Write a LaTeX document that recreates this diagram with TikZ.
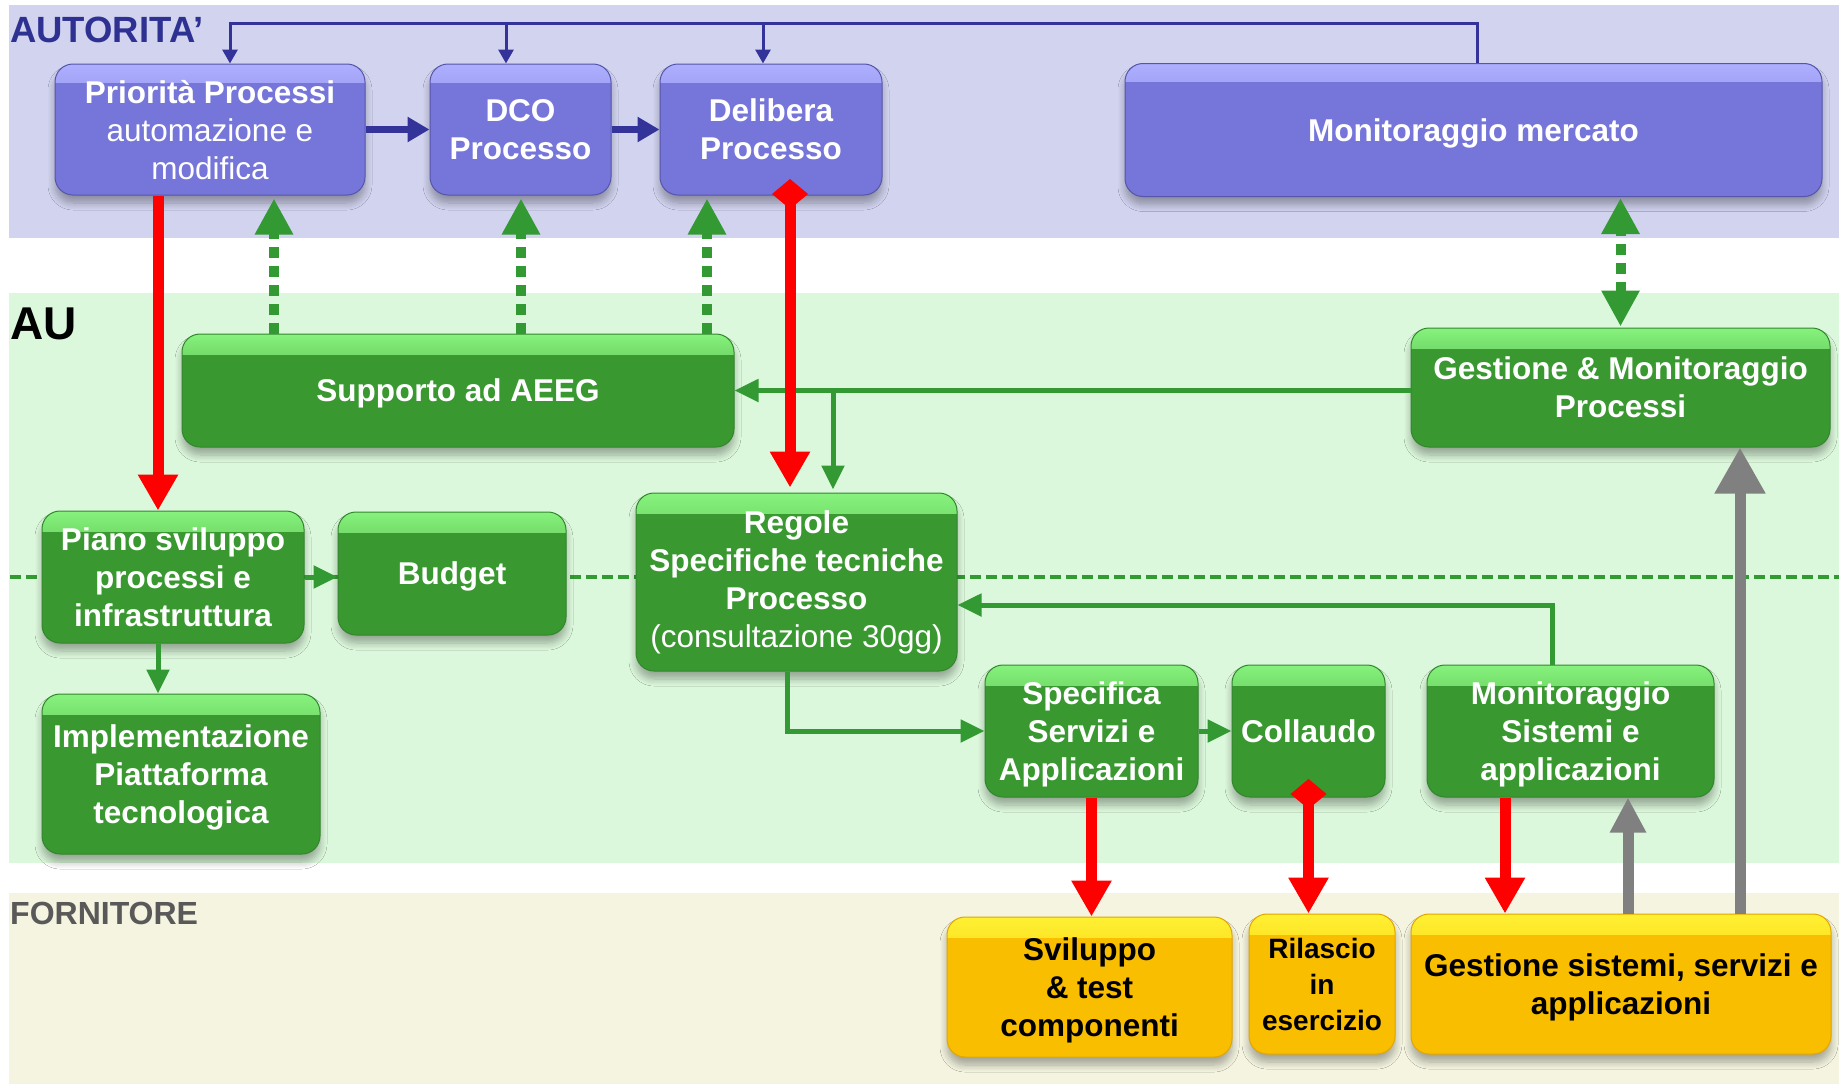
\documentclass[tikz,border=0pt]{standalone}
\usepackage{fontspec}
\setmainfont{Liberation Sans}
\usetikzlibrary{arrows.meta,calc,shadows.blur}
\definecolor{autbg}{RGB}{209,211,239}
\definecolor{aubg}{RGB}{220,248,220}
\definecolor{fornbg}{RGB}{244,244,224}
\definecolor{autlab}{RGB}{46,49,146}
\definecolor{bluebase}{RGB}{118,118,218}
\definecolor{bluehigh}{RGB}{175,175,255}
\definecolor{blueedge}{RGB}{85,85,170}
\definecolor{greenbase}{RGB}{57,152,48}
\definecolor{greenhigh}{RGB}{135,242,125}
\definecolor{greenedge}{RGB}{50,135,45}
\definecolor{yelbase}{RGB}{249,190,0}
\definecolor{yelhigh}{RGB}{255,240,50}
\definecolor{yeledge}{RGB}{225,165,0}
\colorlet{bluemix}{bluebase!55!bluehigh}
\colorlet{greenmix}{greenbase!55!greenhigh}
\colorlet{yelmix}{yelbase!55!yelhigh}
\definecolor{conblue}{RGB}{51,51,153}
\definecolor{congreen}{RGB}{51,153,51}
\definecolor{forlab}{RGB}{89,89,89}
\definecolor{grayarr}{RGB}{128,128,128}
\pgfdeclareverticalshading{bluehl}{100bp}{color(0bp)=(bluebase); color(25bp)=(bluebase); color(55bp)=(bluemix); color(75bp)=(bluehigh); color(100bp)=(bluehigh)}
\pgfdeclareverticalshading{greenhl}{100bp}{color(0bp)=(greenbase); color(25bp)=(greenbase); color(55bp)=(greenmix); color(75bp)=(greenhigh); color(100bp)=(greenhigh)}
\pgfdeclareverticalshading{yelhl}{100bp}{color(0bp)=(yelbase); color(25bp)=(yelbase); color(55bp)=(yelmix); color(75bp)=(yelhigh); color(100bp)=(yelhigh)}
\begin{document}
\begin{tikzpicture}[x=1pt,y=-1pt,
  boxbase/.style={rectangle, rounded corners=18pt, inner sep=0pt, align=center,
     font=\fontsize{31.5}{38}\selectfont\bfseries, line width=1pt, text depth=0pt,
     blur shadow={shadow xshift=0pt, shadow yshift=-8pt, shadow blur steps=8,
                  shadow opacity=32, shadow blur radius=7pt}},
  bluebox/.style={boxbase, fill=bluebase, draw=blueedge, text=white,
     path picture={\shade[sharp corners, shading=bluehl]
        (path picture bounding box.north west) rectangle ([yshift=-18pt]path picture bounding box.north east);}},
  greenbox/.style={boxbase, fill=greenbase, draw=greenedge, text=white,
     path picture={\shade[sharp corners, shading=greenhl]
        (path picture bounding box.north west) rectangle ([yshift=-20pt]path picture bounding box.north east);}},
  yelbox/.style={boxbase, fill=yelbase, draw=yeledge, text=black,
     path picture={\shade[sharp corners, shading=yelhl]
        (path picture bounding box.north west) rectangle ([yshift=-20pt]path picture bounding box.north east);}},
  bthin/.style={draw=conblue, line width=3pt, -{Triangle[width=15pt,length=14pt]}},
  bthick/.style={draw=conblue, line width=7pt, -{Triangle[width=24pt,length=22pt]}},
  gdot/.style={draw=congreen, line width=10pt, dash pattern=on 11pt off 8pt,
     -{Triangle[width=36pt,length=36pt]}, shorten >=3pt},
  gdotd/.style={draw=congreen, line width=10pt, dash pattern=on 11pt off 8pt,
     {Triangle[width=36pt,length=36pt]}-{Triangle[width=36pt,length=36pt]}, shorten >=1pt, shorten <=1pt},
  rarr/.style={draw=red, line width=11pt, -{Triangle[width=38pt,length=36pt]}},
  rarrd/.style={draw=red, line width=11pt, {Diamond[width=36pt,length=30pt]}-{Triangle[width=38pt,length=36pt]}},
  garr/.style={draw=congreen, line width=5pt, -{Triangle[width=22pt,length=24pt]}},
  grsmall/.style={draw=grayarr, line width=11pt, -{Triangle[width=34pt,length=35pt]}},
  grbig/.style={draw=grayarr, line width=11pt, -{Triangle[width=48pt,length=46pt]}}
]
\useasboundingbox (0,0) rectangle (1839,1090);
\fill[white] (0,0) rectangle (1839,1090);
% bands
\fill[autbg] (9,5) rectangle (1839,238);
\fill[aubg] (9,293) rectangle (1839,863);
\fill[fornbg] (9,893) rectangle (1839,1084);
\node[anchor=base west, inner sep=0pt, text=autlab, font=\fontsize{36.5}{40}\selectfont\bfseries] (labaut) at (10,42) {AUTORITA’};
\node[anchor=base west, inner sep=0pt, text=black, font=\fontsize{46}{50}\selectfont\bfseries] (labau) at (10,339) {AU};
\node[anchor=base west, inner sep=0pt, text=forlab, font=\fontsize{32}{36}\selectfont\bfseries] (labforn) at (10,924) {FORNITORE};
% dashed separator
\draw[congreen, line width=4pt, dash pattern=on 11pt off 5pt] (10,577) -- (1839,577);

% boxes
\node[bluebox, minimum width=310pt, minimum height=131pt] (prio) at (210,129.5)
  {Priorità Processi\\\mdseries automazione e\\\mdseries modifica};
\node[bluebox, minimum width=181pt, minimum height=131pt] (dco) at (520.5,129.5) {DCO\\Processo};
\node[bluebox, minimum width=222pt, minimum height=131pt] (delib) at (771,129.5) {Delibera\\Processo};
\node[bluebox, minimum width=697pt, minimum height=133pt] (monmerc) at (1473.5,130) {Monitoraggio mercato};

\node[greenbox, minimum width=552pt, minimum height=113pt] (supp) at (458,390.5) {Supporto ad AEEG};
\node[greenbox, minimum width=419pt, minimum height=119pt] (gestmon) at (1620.5,387.5) {Gestione \& Monitoraggio\\Processi};
\node[greenbox, minimum width=262pt, minimum height=132pt] (piano) at (173,577) {Piano sviluppo\\processi e\\infrastruttura};
\node[greenbox, minimum width=228pt, minimum height=123pt] (budget) at (452,573.5) {Budget};
\node[greenbox, minimum width=278pt, minimum height=160pt] (impl) at (181,774) {Implementazione\\Piattaforma\\tecnologica};
\node[greenbox, minimum width=321pt, minimum height=178pt, text depth=6.5pt] (regole) at (796.5,582)
  {Regole\\Specifiche tecniche\\Processo\\\mdseries (consultazione 30gg)};
\node[greenbox, minimum width=213pt, minimum height=132pt] (spec) at (1091.5,731) {Specifica\\Servizi e\\Applicazioni};
\node[greenbox, minimum width=153pt, minimum height=132pt] (coll) at (1308.5,731) {Collaudo};
\node[greenbox, minimum width=287pt, minimum height=132pt] (monsis) at (1570.5,731) {Monitoraggio\\Sistemi e\\applicazioni};

\node[yelbox, minimum width=285pt, minimum height=140pt] (svil) at (1089.5,987) {Sviluppo\\\& test\\componenti};
\node[yelbox, minimum width=146pt, minimum height=140pt, font=\fontsize{28}{36}\selectfont\bfseries] (rila) at (1322,984) {Rilascio\\in\\esercizio};
\node[yelbox, minimum width=420pt, minimum height=140pt] (gestsis) at (1621,984) {Gestione sistemi, servizi e\\applicazioni};

% helper coordinates
\coordinate (tl) at (230,23);
\coordinate (tr) at (1477,23);
\coordinate (bx2) at (506,23);
\coordinate (bx3) at (763,23);
\coordinate (xd1) at (274,0);
\coordinate (xd2) at (521,0);
\coordinate (xd3) at (707,0);
\coordinate (xr1) at (158,0);
\coordinate (dm1) at (790,179);
\coordinate (dm2) at (1308.5,779);
\coordinate (xr5) at (1505,0);
\coordinate (xg2) at (833,0);
\coordinate (xg5) at (787,0);
\coordinate (cg7) at (1552,605);
\coordinate (xgr1) at (1628,0);
\coordinate (xgr2) at (1740,0);

% blue connectors
\draw[bthin, line join=miter] (monmerc.north -| tr) -- (tr) -- (tl) -- (tl |- prio.north);
\draw[bthin] (bx2) -- (bx2 |- dco.north);
\draw[bthin] (bx3) -- (bx3 |- delib.north);
\draw[bthick] (prio.east) -- (dco.west);
\draw[bthick] (dco.east) -- (delib.west);

% green dotted
\draw[gdot] (supp.north -| xd1) -- (prio.south -| xd1);
\draw[gdot] (supp.north -| xd2) -- (dco.south -| xd2);
\draw[gdot] (supp.north -| xd3) -- (delib.south -| xd3);
\draw[gdotd] (gestmon.north) -- (gestmon.north |- monmerc.south);

% green solid
\draw[garr] (gestmon.west |- supp.east) -- (supp.east);
\draw[garr, shorten >=3pt] (supp.east -| xg2) -- (regole.north -| xg2);
\draw[garr] (piano.east) -- (piano.east -| budget.west);
\draw[garr] (piano.south -| xr1) -- (impl.north -| xr1);
\draw[garr] (regole.south -| xg5) |- (spec.west);
\draw[garr] (spec.east) -- (coll.west);
\draw[garr] (monsis.north -| cg7) -- (cg7) -- (cg7 -| regole.east);

% red
\draw[rarr] (prio.south -| xr1) -- (piano.north -| xr1);
\draw[rarrd, shorten >=5pt] (dm1) -- (regole.north -| dm1);
\draw[rarr] (spec.south) -- (spec.south |- svil.north);
\draw[rarrd] (dm2) -- (dm2 |- rila.north);
\draw[rarr] (monsis.south -| xr5) -- (gestsis.north -| xr5);

% gray
\draw[grsmall] (gestsis.north -| xgr1) -- (monsis.south -| xgr1);
\draw[grbig] (gestsis.north -| xgr2) -- (gestmon.south -| xgr2);
\end{tikzpicture}
\end{document}
